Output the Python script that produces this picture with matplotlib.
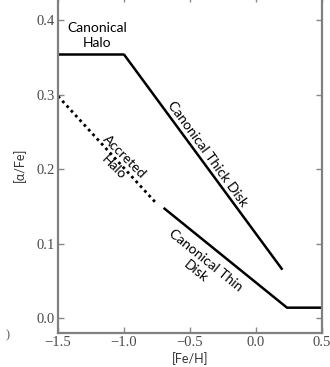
import matplotlib
matplotlib.use("Agg")
import matplotlib.pyplot as plt

# Data
halo_x = [-1.5, -1.0]
halo_y = [0.354, 0.354]
thick_x = [-1.0, 0.2]
thick_y = [0.354, 0.065]
thin_x = [-0.70, 0.235, 0.5]
thin_y = [0.148, 0.014, 0.014]
accreted_x = [-1.5, -0.765]
accreted_y = [0.298, 0.156]
xticks = [-1.5, -1.0, -0.5, 0.0, 0.5]
yticks = [0.0, 0.1, 0.2, 0.3, 0.4]

fig = plt.figure(figsize=(3.30, 3.67), dpi=100)
ax = fig.add_axes([58/330, 34/367, 264/330, 337/367])

ax.plot(halo_x, halo_y, color="black", lw=1.8, solid_capstyle="butt")
ax.plot(thick_x, thick_y, color="black", lw=1.8, solid_capstyle="butt")
ax.plot(thin_x, thin_y, color="black", lw=1.8, solid_capstyle="butt")
ax.plot(accreted_x, accreted_y, color="black", lw=2.0, linestyle=(0, (1, 1.3)))

ax.set_xlim(-1.5, 0.5)
ax.set_ylim(-0.02, 0.4325)
ax.set_xticks(xticks)
ax.set_yticks(yticks)
ax.set_xticklabels(["\u22121.5", "\u22121.0", "\u22120.5", "0.0", "0.5"],
                   family="Liberation Serif", fontsize=10.5, color="#4a4a4a")
ax.set_yticklabels(["0.0", "0.1", "0.2", "0.3", "0.4"],
                   family="Liberation Serif", fontsize=10.5, color="#4a4a4a")
ax.tick_params(direction="in", length=4, width=1, color="#888888",
               top=True, right=True, pad=2)
for s in ax.spines.values():
    s.set_color("#808080")
    s.set_linewidth(1.6)

ax.set_xlabel("[Fe/H]", family="Lato", fontsize=9, color="#333333", labelpad=2.5)
ax.set_ylabel("[\u03b1/Fe]", family="Lato", fontsize=9, color="#333333", labelpad=8)

tf = dict(family="Lato", fontsize=10, color="black", ha="center", va="center",
          linespacing=1.3, rotation_mode="anchor")
ax.text(-1.205, 0.379, "Canonical\nHalo", **tf)
ax.text(-0.364, 0.221, "Canonical Thick Disk", rotation=-54, **tf)
ax.text(-1.04, 0.209, "Accreted\nHalo", rotation=-45, **tf)
ax.text(-0.417, 0.070, "Canonical Thin\nDisk", rotation=-39, **tf)

fig.text(8/330, 1 - 335/367, ")", family="Liberation Serif", fontsize=9,
         color="#555555", ha="center", va="center")

fig.savefig("out.png", dpi=100)
